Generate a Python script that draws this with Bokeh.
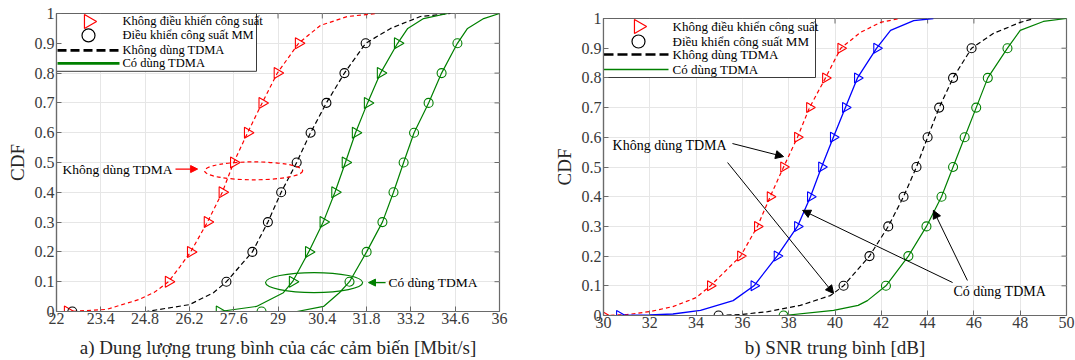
import numpy as np
from bokeh.plotting import figure
from bokeh.models import Range1d, FixedTicker, Arrow, NormalHead
from bokeh.embed import file_html
from bokeh.resources import INLINE
from bokeh.core.properties import value

FONT = "'Liberation Serif', 'Times New Roman', serif"
RED = "#ff0000"
GREEN = "#008000"
BLUE = "#0000ff"
BLACK = "#000000"
AXC = "#6a6a6a"
TICKC = "#3a3a3a"

# ---------------- data ----------------
cdf_levels = [0.0, 0.1, 0.2, 0.3, 0.4, 0.5, 0.6, 0.7, 0.8, 0.9]

# (a) capacity [Mbit/s]
a_xticks = [22, 23.4, 24.8, 26.2, 27.6, 29, 30.4, 31.8, 33.2, 34.6, 36]
a_xlabels = ["22", "23.4", "24.8", "26.2", "27.6", "29", "30.4", "31.8", "33.2", "34.6", "36"]
# no TDMA, no power control
a_red_x = [22.3, 22.41, 23.58, 24.6, 25.1, 25.54, 25.9, 26.24, 26.77, 27.24, 27.6, 28.04, 28.5, 28.98, 29.65, 30.34, 31.2, 32.1]
a_red_y = [0.0, 0.0, 0.007, 0.04, 0.065, 0.1, 0.15, 0.2, 0.3, 0.4, 0.5, 0.6, 0.7, 0.8, 0.9, 0.96, 0.99, 1.0]
a_red_m = [22.35, 25.54, 26.24, 26.77, 27.24, 27.6, 28.04, 28.5, 28.98, 29.65]
# no TDMA, MM power control
a_blk_x = [22.5, 24.84, 26.2, 26.96, 27.37, 28.19, 28.68, 29.1, 29.59, 30.03, 30.53, 31.1, 31.77, 32.56, 33.5, 34.45]
a_blk_y = [0.0, 0.0, 0.023, 0.063, 0.1, 0.2, 0.3, 0.4, 0.5, 0.6, 0.7, 0.8, 0.9, 0.95, 0.99, 1.0]
a_blk_m = [22.5, 27.37, 28.19, 28.68, 29.1, 29.59, 30.03, 30.53, 31.1, 31.77]
# TDMA, no power control
a_gt_x = [27.15, 28.32, 29.17, 29.46, 29.97, 30.43, 30.8, 31.13, 31.45, 31.83, 32.24, 32.78, 33.1, 33.6, 34.36]
a_gt_y = [0.0, 0.017, 0.063, 0.1, 0.2, 0.3, 0.4, 0.5, 0.6, 0.7, 0.8, 0.9, 0.95, 0.983, 1.0]
a_gt_m = [27.15, 29.46, 29.97, 30.43, 30.8, 31.13, 31.45, 31.83, 32.24, 32.78]
# TDMA, MM power control
a_gc_x = [28.48, 29.6, 30.44, 30.94, 31.26, 31.8, 32.3, 32.65, 32.97, 33.3, 33.76, 34.17, 34.67, 34.99, 35.5, 36.0]
a_gc_y = [0.0, 0.0, 0.017, 0.063, 0.1, 0.2, 0.3, 0.4, 0.5, 0.6, 0.7, 0.8, 0.9, 0.95, 0.983, 1.0]
a_gc_m = [28.48, 31.26, 31.8, 32.3, 32.65, 32.97, 33.3, 33.76, 34.17, 34.67]

# (b) SNR [dB]
b_xticks = [30, 32, 34, 36, 38, 40, 42, 44, 46, 48, 50]
b_xlabels = [str(t) for t in b_xticks]
b_red_x = [30.0, 31.0, 32.0, 33.0, 34.0, 34.62, 35.92, 36.65, 37.2, 37.78, 38.38, 38.9, 39.59, 40.25, 41.1, 41.97, 42.8]
b_red_y = [0.0, 0.003, 0.013, 0.03, 0.06, 0.1, 0.2, 0.3, 0.4, 0.5, 0.6, 0.7, 0.8, 0.9, 0.953, 0.987, 1.0]
b_red_m = [30.0, 34.62, 35.92, 36.65, 37.2, 37.78, 38.38, 38.9, 39.59, 40.25]
b_blu_x = [30.69, 32.0, 33.0, 34.19, 35.6, 36.5, 37.5, 38.38, 38.94, 39.42, 39.93, 40.45, 40.97, 41.8, 42.4, 43.4, 44.25]
b_blu_y = [0.0, 0.002, 0.005, 0.017, 0.05, 0.1, 0.2, 0.3, 0.4, 0.5, 0.6, 0.7, 0.8, 0.9, 0.96, 0.993, 1.0]
b_blu_m = [30.69, 36.5, 37.5, 38.38, 38.94, 39.42, 39.93, 40.45, 40.97, 41.8]
b_blk_x = [34.97, 35.9, 37.1, 38.5, 39.8, 40.37, 41.49, 42.3, 42.96, 43.52, 44.0, 44.5, 45.1, 45.9, 46.85, 48.0, 48.6]
b_blk_y = [0.0, 0.003, 0.013, 0.034, 0.067, 0.1, 0.2, 0.3, 0.4, 0.5, 0.6, 0.7, 0.8, 0.9, 0.95, 0.987, 1.0]
b_blk_m = [34.97, 40.37, 41.49, 42.3, 42.96, 43.52, 44.0, 44.5, 45.1, 45.9]
b_grn_x = [37.78, 39.94, 41.0, 41.4, 42.2, 43.17, 43.95, 44.6, 45.1, 45.6, 46.1, 46.6, 47.45, 48.0, 49.0, 50.0]
b_grn_y = [0.0, 0.017, 0.034, 0.05, 0.1, 0.2, 0.3, 0.4, 0.5, 0.6, 0.7, 0.8, 0.9, 0.96, 0.99, 1.0]
b_grn_m = [37.78, 42.2, 43.17, 43.95, 44.6, 45.1, 45.6, 46.1, 46.6, 47.45]

yticks = [0, 0.1, 0.2, 0.3, 0.4, 0.5, 0.6, 0.7, 0.8, 0.9, 1]
ylabels = ["0", "0.1", "0.2", "0.3", "0.4", "0.5", "0.6", "0.7", "0.8", "0.9", "1"]

legend_labels = ["Không điều khiển công suất", "Điều khiển công suất MM",
                 "Không dùng TDMA", "Có dùng TDMA"]
a_xlabel = "a) Dung lượng trung bình của các cảm biến [Mbit/s]"
b_xlabel = "b) SNR trung bình [dB]"
ann_no = "Không dùng TDMA"
ann_yes = "Có dùng TDMA"


def style_axis(ax, ticks, labels):
    ax.ticker = FixedTicker(ticks=ticks)
    ax.major_label_overrides = dict(zip(ticks, labels))
    ax.major_tick_in = 5
    ax.major_tick_out = 0
    ax.minor_tick_line_color = None
    ax.axis_line_color = AXC
    ax.axis_line_width = 1.2
    ax.major_tick_line_color = AXC
    ax.major_tick_line_width = 1
    ax.major_label_text_font = FONT
    ax.major_label_text_color = TICKC
    ax.major_label_text_font_size = "16px"
    ax.major_label_text_line_height = 1.0
    ax.major_label_standoff = 2


def make_fig(width, height, xr, xticks, xlabels, xlabel, borders, fw, fh, left_px, xl_standoff):
    l, r, t, b = borders
    p = figure(width=width, height=height, x_range=Range1d(*xr), y_range=Range1d(0, 1),
               output_backend="svg", toolbar_location=None,
               min_border_left=l, min_border_right=r, min_border_top=t, min_border_bottom=b,
               styles={"position": "absolute", "top": "0px", "left": left_px})
    p.outline_line_color = AXC
    p.outline_line_width = 1.2
    p.background_fill_color = "white"
    style_axis(p.below[0], xticks, xlabels)
    style_axis(p.left[0], yticks, ylabels)
    p.below[0].major_label_standoff = 1
    p.below[0].axis_label = xlabel
    p.below[0].axis_label_standoff = xl_standoff
    p.below[0].axis_label_text_font = FONT
    p.below[0].axis_label_text_font_style = "normal"
    p.below[0].axis_label_text_font_size = "19px"
    p.below[0].axis_label_text_line_height = 1.0
    p.below[0].axis_label_text_color = "#262626"
    p.left[0].axis_label = "CDF"
    p.left[0].axis_label_standoff = 4
    p.left[0].axis_label_text_font = FONT
    p.left[0].axis_label_text_font_style = "normal"
    p.left[0].axis_label_text_font_size = "19px"
    p.left[0].axis_label_text_color = "#262626"
    p.xgrid.grid_line_color = "#e6e6e6"
    p.ygrid.grid_line_color = "#e6e6e6"
    # inward ticks on the top and right edges of the box
    dx = 5 * (xr[1] - xr[0]) / fw
    dy = 5 / fh
    p.segment(x0=xticks, x1=xticks, y0=[1.0] * len(xticks), y1=[1.0 - dy] * len(xticks),
              line_color=AXC, line_width=1)
    p.segment(x0=[xr[1]] * len(yticks), x1=[xr[1] - dx] * len(yticks), y0=yticks, y1=yticks,
              line_color=AXC, line_width=1)
    return p


def series(p, lx, ly, mx, color, dash, marker, msize, lw=1.2):
    p.line(lx, ly, line_color=color, line_width=lw, line_dash=dash)
    if marker == "tri":
        p.scatter(mx, cdf_levels, marker="triangle", angle=-np.pi / 2, size=msize,
                  fill_color=None, line_color=color, line_width=1.1)
    else:
        p.scatter(mx, cdf_levels, marker="circle", size=msize,
                  fill_color=None, line_color=color, line_width=1.1)


def legend(p, xr, fw, fh, box_w, box_h, rows, mark_px, l0, l1, text_px, fsize, dash_lw, solid_lw, dash):
    fx = lambda px: xr[0] + px * (xr[1] - xr[0]) / fw
    fy = lambda py: 1.0 - py / fh
    p.quad(left=[fx(0)], right=[fx(box_w)], top=[fy(0)], bottom=[fy(box_h)],
           fill_color="white", line_color="#3a3a3a", line_width=1)
    p.scatter([fx(mark_px)], [fy(rows[0])], marker="triangle", angle=-np.pi / 2, size=14,
              fill_color=None, line_color=RED, line_width=1.2)
    p.scatter([fx(mark_px)], [fy(rows[1])], marker="circle", size=13,
              fill_color=None, line_color=BLACK, line_width=1.2)
    p.line([fx(l0), fx(l1)], [fy(rows[2])] * 2, line_color=BLACK, line_width=dash_lw, line_dash=dash)
    p.line([fx(l0), fx(l1)], [fy(rows[3])] * 2, line_color=GREEN, line_width=solid_lw)
    p.text([fx(text_px)] * 4, [fy(r) for r in rows], text=legend_labels,
           text_font=value(FONT), text_font_size=value(fsize), text_color="black",
           text_align="left", text_baseline="middle")


# ---------------- figure (a) ----------------
pa = make_fig(538, 360, (22, 36), a_xticks, a_xlabels, a_xlabel, (56, 39, 13, 48), 443, 299, "0px", 10)
series(pa, a_red_x, a_red_y, a_red_m, RED, "4 3", "tri", 11)
series(pa, a_blk_x, a_blk_y, a_blk_m, BLACK, "5 3", "circ", 9)
series(pa, a_gt_x, a_gt_y, a_gt_m, GREEN, "solid", "tri", 11)
series(pa, a_gc_x, a_gc_y, a_gc_m, GREEN, "solid", "circ", 9)
pa.ellipse(x=[28.23], y=[0.472], width=[3.1], height=[0.06], fill_color=None,
           line_color=RED, line_width=1.2, line_dash="4 3")
pa.ellipse(x=[30.14], y=[0.097], width=[3.07], height=[0.067], fill_color=None,
           line_color=GREEN, line_width=1.2)
pa.text([22.19], [0.475], text=[ann_no], text_font=value(FONT), text_font_size=value("13.5px"),
        text_align="left", text_baseline="middle", text_color="black")
pa.add_layout(Arrow(end=NormalHead(size=7, fill_color=RED, line_color=RED), x_start=25.76, y_start=0.478,
                    x_end=26.46, y_end=0.478, line_color=RED, line_width=1.2))
pa.text([32.49], [0.097], text=[ann_yes], text_font=value(FONT), text_font_size=value("13.5px"),
        text_align="left", text_baseline="middle", text_color="black")
pa.add_layout(Arrow(end=NormalHead(size=7, fill_color=GREEN, line_color=GREEN), x_start=32.4, y_start=0.097,
                    x_end=31.86, y_end=0.097, line_color=GREEN, line_width=1.2))
legend(pa, (22, 36), 443, 299, 200, 58, [8, 22, 37, 50], 32, 1, 63, 66, "12.5px", 2.7, 2.7, "9 4")

# ---------------- figure (b) ----------------
pb = make_fig(537, 360, (30, 50), b_xticks, b_xlabels, b_xlabel, (65, 9, 18, 45), 463, 297, "538px", 6)
series(pb, b_red_x, b_red_y, b_red_m, RED, "4 3", "tri", 10)
series(pb, b_blu_x, b_blu_y, b_blu_m, BLUE, "solid", "tri", 10, 1.3)
series(pb, b_blk_x, b_blk_y, b_blk_m, BLACK, "5 3", "circ", 9)
series(pb, b_grn_x, b_grn_y, b_grn_m, GREEN, "solid", "circ", 9)
pb.text([30.39], [0.572], text=[ann_no], text_font=value(FONT), text_font_size=value("14px"),
        text_align="left", text_baseline="middle", text_color="black")
pb.text([45.12], [0.081], text=[ann_yes], text_font=value(FONT), text_font_size=value("14px"),
        text_align="left", text_baseline="middle", text_color="black")
for xs, ys, xe, ye in [(35.57, 0.579, 37.78, 0.535), (35.36, 0.515, 39.94, 0.074),
                       (45.08, 0.111, 38.6, 0.354), (45.72, 0.118, 44.25, 0.354)]:
    pb.add_layout(Arrow(end=NormalHead(size=8, fill_color=BLACK, line_color=BLACK),
                        x_start=xs, y_start=ys, x_end=xe, y_end=ye, line_color=BLACK, line_width=1))
legend(pb, (30, 50), 463, 297, 212, 59, [8, 23, 36, 51], 35, 0, 65, 69, "13px", 2.7, 1.5, "10 4")

open("out.html", "w").write(file_html([pa, pb], INLINE))
